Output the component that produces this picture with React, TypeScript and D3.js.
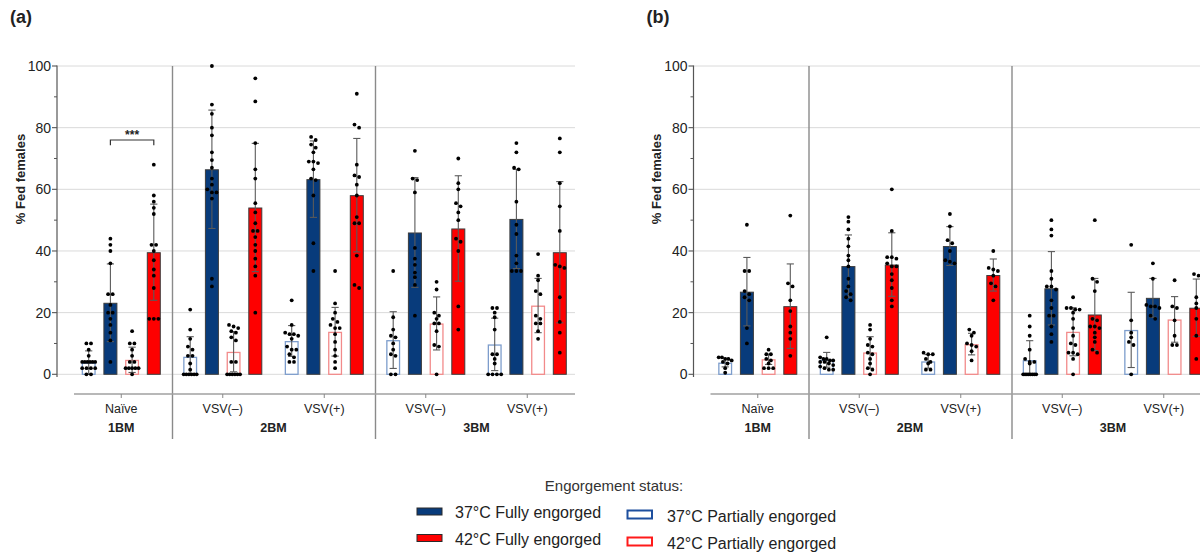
import React from "react";
import * as d3 from "d3";

// ---------- data ----------
const groupLabels = ["Naïve", "VSV(–)", "VSV(+)", "VSV(–)", "VSV(+)"];
const bmLabels = ["1BM", "2BM", "3BM"];
const bmSpans = [[0, 0], [1, 2], [3, 4]];
const seriesNames = [
  "37°C Partially engorged",
  "37°C Fully engorged",
  "42°C Partially engorged",
  "42°C Fully engorged",
];
const yTicks = [0, 20, 40, 60, 80, 100];
const yMinorTicks = [10, 30, 50, 70, 90];
const panelLabels = ["(a)", "(b)"];
const sigLabel = "***";

// panel (a): mean and SD per group, series order = seriesNames
const aMeans = [
  [3.8, 23.2, 4.7, 39.6],
  [5.7, 66.5, 7.3, 54.1],
  [10.8, 63.3, 13.8, 58.1],
  [11.1, 46.0, 16.5, 47.3],
  [9.7, 50.4, 22.3, 39.6],
];
const aSD = [
  [3.8, 12.6, 4.1, 15.6],
  [6.5, 19.2, 6.5, 20.8],
  [5.0, 12.4, 7.9, 18.4],
  [9.2, 17.8, 8.6, 17.1],
  [8.5, 16.1, 8.8, 22.9],
];
const aDots = [
  [
    [10, 10, 8, 6, 4, 4, 4, 4, 4, 4, 2, 2, 2, 2, 0, 0],
    [44, 42, 40, 36, 26, 26, 22.5, 20, 20, 18, 16, 13.5, 11, 4],
    [14, 10, 10, 8, 6, 4, 4, 2, 2, 2, 2, 2, 0],
    [68, 58, 56, 54, 52, 42, 42, 40, 37, 34, 32, 28, 18, 18, 18],
  ],
  [
    [21, 14.5, 11.5, 9, 8, 6, 6, 3.5, 1.5, 0, 0, 0, 0, 0, 0],
    [100, 87.5, 84.5, 80, 77.5, 72, 69.5, 67, 63.5, 61.5, 60, 59, 59, 57, 31, 28.5],
    [16, 15.5, 15, 14, 13.5, 12, 11, 4, 4, 0, 0, 0, 0, 0, 0],
    [96, 88.5, 75, 66.5, 63.5, 55.5, 52.5, 49, 46.5, 46.5, 44.5, 42, 40, 37.5, 35, 32, 20],
  ],
  [
    [24, 16, 13.5, 13, 13, 12.5, 11.5, 9, 8, 8, 6.5, 5.5, 4, 4],
    [77, 76, 74.5, 73.5, 72, 69, 69, 68.5, 66.5, 63.5, 63, 58, 42.5, 33.5],
    [33.5, 23, 20, 18, 17, 16, 15, 15, 13, 10.5, 8, 6, 4, 2],
    [91, 81, 80, 68, 64.5, 64, 61.5, 58, 51, 49, 49, 38.5, 29, 28],
  ],
  [
    [33.5, 18.5, 14.5, 12.5, 12, 10, 8, 6.5, 6, 0, 0],
    [72.5, 63.5, 63, 59, 41, 37.5, 35.5, 33, 31.5, 29, 19],
    [30, 27.5, 20, 19, 18, 16.5, 16.5, 14, 9.5, 9, 0],
    [70, 62, 60, 55.5, 54.5, 52.5, 50, 44, 43, 40, 22, 14.5],
  ],
  [
    [21.5, 21.5, 20, 18.5, 14.5, 6.5, 6.5, 5, 3.5, 0, 0, 0, 0],
    [75, 72, 67, 66.5, 56, 48.5, 45.5, 38.5, 36, 33.5, 33.5, 33.5],
    [39, 32, 30.5, 27, 26, 19, 18, 16.5, 16.5, 14, 11.5],
    [76.5, 72, 62, 54.5, 46.5, 35.5, 35, 34.5, 25, 17, 13.5, 7],
  ],
];

// panel (b)
const bMeans = [
  [3.8, 26.8, 4.9, 22.1],
  [4.7, 35.1, 7.1, 35.6],
  [4.2, 41.6, 9.8, 32.2],
  [4.6, 27.9, 13.8, 19.4],
  [14.4, 24.8, 17.8, 21.6],
];
const bSD = [
  [1.4, 11.1, 1.7, 13.7],
  [2.4, 10.1, 5.1, 10.3],
  [2.2, 6.3, 3.5, 5.2],
  [6.3, 11.9, 7.8, 11.7],
  [12.2, 6.3, 7.4, 9.3],
];
const bDots = [
  [
    [5.5, 5.5, 5, 5, 4.5, 4, 3.5, 2, 0.5],
    [48.5, 33.5, 33.5, 27, 26, 25, 24, 15, 10],
    [8, 6.5, 6.5, 5, 4.5, 3.5, 2, 2, 2],
    [51.5, 29.5, 28.5, 24, 20.5, 15.5, 13.5, 11.5, 6],
  ],
  [
    [12, 5.5, 5, 5, 4.5, 4.5, 4, 4, 3.5, 3, 2.5, 2, 1.5, 1.5],
    [51, 49.5, 47, 44, 41.5, 38.5, 37, 35, 31, 28.5, 27, 26, 25, 24],
    [16, 14.5, 11.5, 9.5, 9, 7, 6.5, 5, 3.5, 2, 1.5, 0],
    [60, 46.5, 38, 38, 37.5, 36, 35, 35, 32.5, 30.5, 28, 24, 22],
  ],
  [
    [7, 6.5, 6.5, 5, 4, 3.5, 1.5, 1.5],
    [52, 48, 43.5, 42.5, 40, 37, 36.5, 36],
    [14.5, 13.5, 12.5, 10, 9.5, 9, 7.5, 4.5],
    [40, 34.5, 34, 33.5, 32, 29.5, 28.5, 24],
  ],
  [
    [19, 15.5, 12.5, 8, 5, 4, 4, 3.5, 0, 0, 0, 0, 0, 0, 0, 0],
    [50, 47, 45, 33.5, 31, 28.5, 28.5, 27.5, 24, 21.5, 19, 19, 15.5, 13, 10.5],
    [25, 21.5, 21.5, 21, 21, 20, 18, 15, 12.5, 10, 9.5, 7, 7, 6.5, 5, 0],
    [50, 31, 30, 27, 18, 17.5, 15.5, 15.5, 15, 13.5, 12, 10.5, 8, 7],
  ],
  [
    [42, 17.5, 13.5, 12, 10.5, 9.5, 0],
    [36, 31, 22.5, 22, 22, 21.5, 19, 18],
    [30.5, 22, 21.5, 17.5, 12.5, 9.5, 9.5],
    [32.5, 32, 25, 23, 21.5, 18, 12.5, 5],
  ],
];

// ---------- styles ----------
const FONT = "'Liberation Sans', Arial, Helvetica, sans-serif";
const BLUE = "#083b7b";
const RED = "#fe0000";
const seriesFill = ["#ffffff", BLUE, "#ffffff", RED];
const seriesStroke = ["#7d9dcc", "#3c3c3c", "#f28a8a", "#3c3c3c"];
const legendStroke = ["#1d4f9e", "#2a2a2a", "#ff1a1a", "#2a2a2a"];

const DOT_R = 1.9;

function swarm(vals: number[], cx: number, y: (v: number) => number) {
  const sorted = [...vals].sort((a, b) => b - a);
  const rows: number[][] = [];
  let cur: number[] = [];
  let startY = -1e9;
  sorted.forEach((v) => {
    const yy = y(v);
    if (cur.length && Math.abs(yy - startY) < DOT_R * 2) {
      cur.push(v);
    } else {
      if (cur.length) rows.push(cur);
      cur = [v];
      startY = yy;
    }
  });
  if (cur.length) rows.push(cur);
  const pts: { x: number; y: number }[] = [];
  rows.forEach((r) => {
    const n = r.length;
    const step = n > 1 ? Math.min(DOT_R * 2 + 0.8, 13 / (n - 1)) : 0;
    r.forEach((v, i) => {
      pts.push({ x: cx + (i - (n - 1) / 2) * step, y: y(v) });
    });
  });
  return pts;
}

type PanelProps = {
  dx: number;
  label: string;
  means: number[][];
  sds: number[][];
  dots: number[][][];
  showSig: boolean;
};

function Panel({ dx, label, means, sds, dots, showSig }: PanelProps) {
  const axisX = 57 + dx;
  const y = d3.scaleLinear().domain([0, 100]).range([374.3, 66]);
  const xg = d3
    .scaleBand<number>()
    .domain(d3.range(groupLabels.length))
    .range([70.5 + dx, 70.5 + dx + 507.5])
    .paddingInner(0)
    .paddingOuter(0);
  const xs = d3
    .scaleBand<number>()
    .domain(d3.range(seriesNames.length))
    .range([-43.4, 43.4])
    .paddingInner(0.355)
    .paddingOuter(0.1775);
  const bw = xs.bandwidth();
  const gc = (g: number) => (xg(g) as number) + xg.bandwidth() / 2;
  const sc = (g: number, s: number) => gc(g) + (xs(s) as number) + bw / 2;
  const catY = 394;
  const gridRight = 575 + dx;

  return (
    <g>
      <text x={10 + dx} y={23} fontFamily={FONT} fontWeight="bold" fontSize={18} fill="#222">
        {label}
      </text>
      {yTicks.map((t) => (
        <line key={"g" + t} x1={axisX} x2={gridRight} y1={y(t)} y2={y(t)} stroke="#dadada" strokeWidth={1} />
      ))}
      {[1, 3].map((g) => (
        <line
          key={"sep" + g}
          x1={(xg(g) as number) + 0.5}
          x2={(xg(g) as number) + 0.5}
          y1={66}
          y2={439}
          stroke="#8a8a8a"
          strokeWidth={1.4}
        />
      ))}
      <line x1={axisX} x2={axisX} y1={65.5} y2={377} stroke="#555" strokeWidth={1.2} />
      {yTicks.map((t) => (
        <g key={"t" + t}>
          <line x1={axisX - 5} x2={axisX} y1={y(t)} y2={y(t)} stroke="#555" strokeWidth={1.1} />
          <text
            x={axisX - 6}
            y={y(t)}
            dy="0.36em"
            textAnchor="end"
            fontFamily={FONT}
            fontSize={14}
            fill="#222"
          >
            {t}
          </text>
        </g>
      ))}
      {yMinorTicks.map((t) => (
        <line key={"m" + t} x1={axisX - 3} x2={axisX} y1={y(t)} y2={y(t)} stroke="#555" strokeWidth={1} />
      ))}
      <text
        transform={`translate(${20 + dx},179) rotate(-90)`}
        textAnchor="middle"
        dy="0.35em"
        fontFamily={FONT}
        fontWeight="bold"
        fontSize={13}
        fill="#222"
      >
        % Fed females
      </text>
      {means.map((row, g) =>
        row.map((m, s) => {
          const partial = s === 0 || s === 2;
          const sw = partial ? 1.3 : 1;
          const x = sc(g, s) - bw / 2;
          return (
            <rect
              key={`b${g}-${s}`}
              x={x + sw / 2}
              y={y(m) + sw / 2}
              width={bw - sw}
              height={Math.max(0, y(0) - y(m) - sw / 2)}
              fill={seriesFill[s]}
              stroke={seriesStroke[s]}
              strokeWidth={sw}
            />
          );
        })
      )}
      {means.map((row, g) =>
        row.map((m, s) => {
          const cx = sc(g, s);
          const hi = y(m + sds[g][s]);
          const lo = y(Math.max(0, m - sds[g][s]));
          const cw = 3.6;
          return (
            <g key={`e${g}-${s}`} stroke="#5a5a5a" strokeWidth={1.1}>
              <line x1={cx} x2={cx} y1={hi} y2={lo} />
              <line x1={cx - cw} x2={cx + cw} y1={hi} y2={hi} />
              <line x1={cx - cw} x2={cx + cw} y1={lo} y2={lo} />
            </g>
          );
        })
      )}
      {dots.map((row, g) =>
        row.map((vals, s) =>
          swarm(vals, sc(g, s), y).map((p, i) => (
            <circle key={`d${g}-${s}-${i}`} cx={p.x} cy={p.y} r={DOT_R} fill="#000" />
          ))
        )
      )}
      {showSig && (
        <g>
          <path
            d={`M${sc(0, 1)},${y(74.3)}V${y(76)}H${sc(0, 3)}V${y(74.3)}`}
            fill="none"
            stroke="#333"
            strokeWidth={1.2}
          />
          <text
            x={(sc(0, 1) + sc(0, 3)) / 2}
            y={y(76) - 0.5}
            textAnchor="middle"
            fontFamily={FONT}
            fontWeight="bold"
            fontSize={12}
            fill="#222"
          >
            {sigLabel}
          </text>
        </g>
      )}
      <line x1={74 + dx} x2={575 + dx} y1={catY} y2={catY} stroke="#a0a0a0" strokeWidth={1.6} />
      {groupLabels.map((l, g) => (
        <g key={"c" + g}>
          <line x1={gc(g)} x2={gc(g)} y1={catY} y2={catY + 4} stroke="#888" strokeWidth={1} />
          <text x={gc(g)} y={413} textAnchor="middle" fontFamily={FONT} fontSize={12.5} fill="#222">
            {l}
          </text>
        </g>
      ))}
      {bmLabels.map((l, i) => {
        const [a, b] = bmSpans[i];
        const cx = a === b ? gc(a) : ((xg(a) as number) + (xg(b) as number) + xg.bandwidth()) / 2;
        return (
          <text
            key={"bm" + i}
            x={cx}
            y={432}
            textAnchor="middle"
            fontFamily={FONT}
            fontWeight="bold"
            fontSize={12.5}
            fill="#222"
          >
            {l}
          </text>
        );
      })}
    </g>
  );
}

function Legend() {
  const items = [
    { s: 1, sx: 417, sy: 508, tx: 455, ty: 518 },
    { s: 3, sx: 417, sy: 534.5, tx: 455, ty: 544.5 },
    { s: 0, sx: 627.5, sy: 510.5, tx: 667, ty: 521.5 },
    { s: 2, sx: 627.5, sy: 537.5, tx: 667, ty: 548.5 },
  ];
  return (
    <g>
      <text x={614} y={491} textAnchor="middle" fontFamily={FONT} fontSize={15} fill="#333">
        Engorgement status:
      </text>
      {items.map((it) => {
        const partial = it.s === 0 || it.s === 2;
        return (
          <g key={"l" + it.s}>
            <rect
              x={it.sx}
              y={it.sy}
              width={partial ? 24.5 : 25}
              height={partial ? 8 : 7}
              fill={seriesFill[it.s]}
              stroke={legendStroke[it.s]}
              strokeWidth={partial ? 2 : 1}
            />
            <text x={it.tx} y={it.ty} fontFamily={FONT} fontSize={16} fill="#222">
              {seriesNames[it.s]}
            </text>
          </g>
        );
      })}
    </g>
  );
}

export default function App() {
  return (
    <svg
      width={1200}
      height={552}
      viewBox="0 0 1200 552"
      style={{ position: "absolute", left: 0, top: 0, background: "#fff" }}
    >
      <rect x={0} y={0} width={1200} height={552} fill="#fff" />
      <Panel dx={0} label={panelLabels[0]} means={aMeans} sds={aSD} dots={aDots} showSig={true} />
      <Panel dx={636.5} label={panelLabels[1]} means={bMeans} sds={bSD} dots={bDots} showSig={false} />
      <Legend />
    </svg>
  );
}
